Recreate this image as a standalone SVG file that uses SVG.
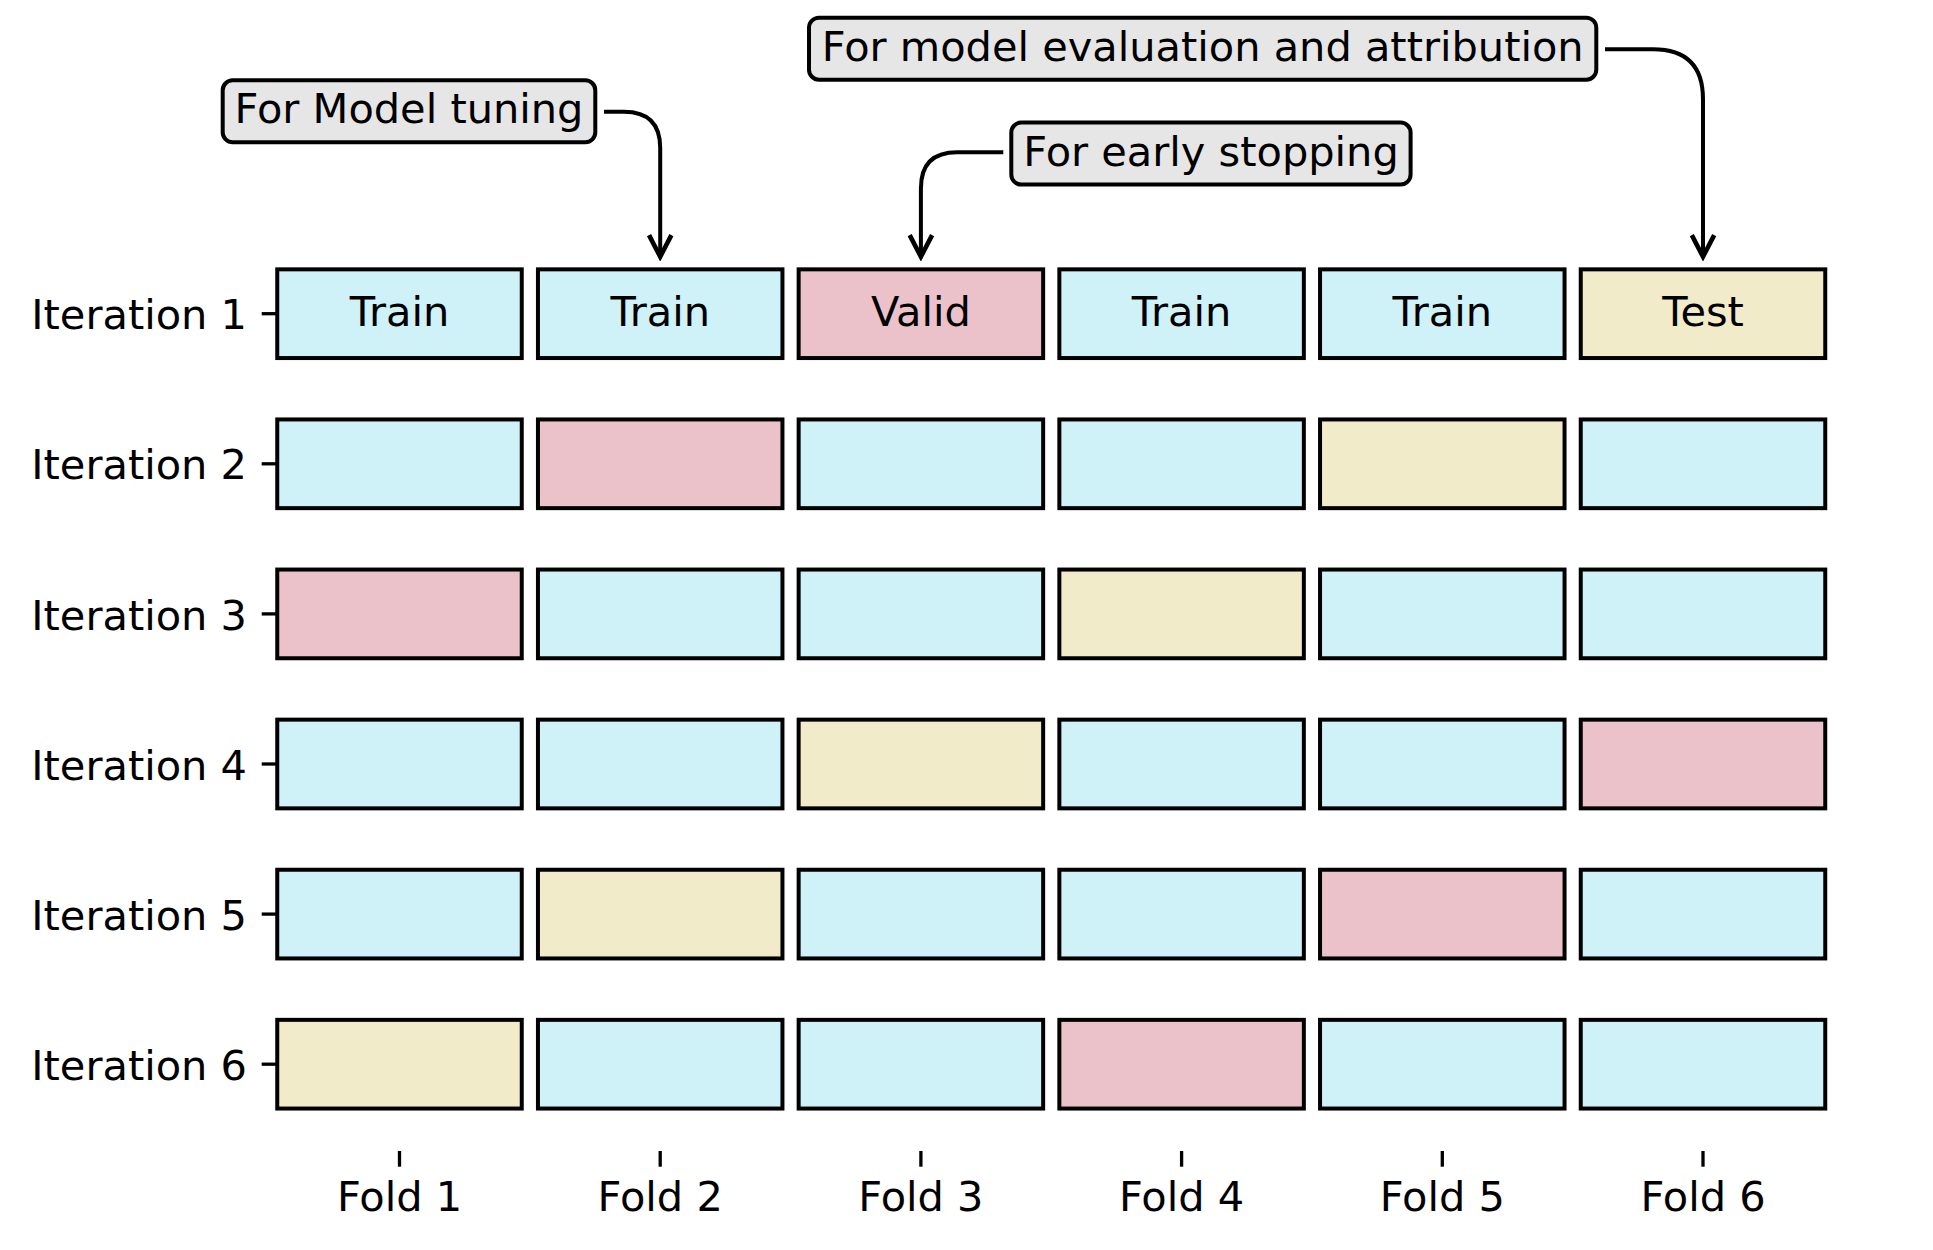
<svg xmlns="http://www.w3.org/2000/svg" width="1933" height="1250" viewBox="0 0 1933 1250">
<style>
text{font-family:"DejaVu Sans","Liberation Sans",sans-serif;font-size:41.5px;fill:#000}
.box{stroke:#000;stroke-width:4}
.tr{fill:#cff1f8}.va{fill:#ebc2c9}.te{fill:#f2ebca}
.ann{fill:#e6e6e6;stroke:#000;stroke-width:4}
.tick{stroke:#000;stroke-width:3.3}
.conn{fill:none;stroke:#000;stroke-width:4}
.mid{text-anchor:middle}.end{text-anchor:end}
</style>
<defs>
<marker id="arr" markerUnits="userSpaceOnUse" markerWidth="30" markerHeight="30" viewBox="-22 -12 26 24" refX="0" refY="0" orient="auto">
<path d="M-18.7,-9.7 L0,0 L-18.7,9.7" fill="none" stroke="#000" stroke-width="4"/>
</marker>
</defs>
<rect width="1933" height="1250" fill="#fff"/>
<g id="axes">
<g class="tick">
<line x1="261.7" y1="313.7" x2="276.5" y2="313.7"/>
<line x1="261.7" y1="463.8" x2="276.5" y2="463.8"/>
<line x1="261.7" y1="613.9" x2="276.5" y2="613.9"/>
<line x1="261.7" y1="764" x2="276.5" y2="764"/>
<line x1="261.7" y1="914.1" x2="276.5" y2="914.1"/>
<line x1="261.7" y1="1064.2" x2="276.5" y2="1064.2"/>
<line x1="399.5" y1="1151" x2="399.5" y2="1166.7"/>
<line x1="660.2" y1="1151" x2="660.2" y2="1166.7"/>
<line x1="920.9" y1="1151" x2="920.9" y2="1166.7"/>
<line x1="1181.6" y1="1151" x2="1181.6" y2="1166.7"/>
<line x1="1442.3" y1="1151" x2="1442.3" y2="1166.7"/>
<line x1="1703" y1="1151" x2="1703" y2="1166.7"/>
</g>
<text class="end" x="247" y="329.3">Iteration 1</text>
<text class="end" x="247" y="479.4">Iteration 2</text>
<text class="end" x="247" y="629.5">Iteration 3</text>
<text class="end" x="247" y="779.6">Iteration 4</text>
<text class="end" x="247" y="929.7">Iteration 5</text>
<text class="end" x="247" y="1079.8">Iteration 6</text>
<text class="mid" x="399.5" y="1211">Fold 1</text>
<text class="mid" x="660.2" y="1211">Fold 2</text>
<text class="mid" x="920.9" y="1211">Fold 3</text>
<text class="mid" x="1181.6" y="1211">Fold 4</text>
<text class="mid" x="1442.3" y="1211">Fold 5</text>
<text class="mid" x="1703" y="1211">Fold 6</text>
</g>
<g id="row1">
<rect class="box tr" x="277.25" y="269.35" width="244.5" height="88.7"/>
<rect class="box tr" x="537.95" y="269.35" width="244.5" height="88.7"/>
<rect class="box va" x="798.65" y="269.35" width="244.5" height="88.7"/>
<rect class="box tr" x="1059.35" y="269.35" width="244.5" height="88.7"/>
<rect class="box tr" x="1320.05" y="269.35" width="244.5" height="88.7"/>
<rect class="box te" x="1580.75" y="269.35" width="244.5" height="88.7"/>
<text class="mid" x="399.5" y="326">Train</text>
<text class="mid" x="660.2" y="326">Train</text>
<text class="mid" x="920.9" y="326">Valid</text>
<text class="mid" x="1181.6" y="326">Train</text>
<text class="mid" x="1442.3" y="326">Train</text>
<text class="mid" x="1703" y="326">Test</text>
</g>
<g id="row2">
<rect class="box tr" x="277.25" y="419.45" width="244.5" height="88.7"/>
<rect class="box va" x="537.95" y="419.45" width="244.5" height="88.7"/>
<rect class="box tr" x="798.65" y="419.45" width="244.5" height="88.7"/>
<rect class="box tr" x="1059.35" y="419.45" width="244.5" height="88.7"/>
<rect class="box te" x="1320.05" y="419.45" width="244.5" height="88.7"/>
<rect class="box tr" x="1580.75" y="419.45" width="244.5" height="88.7"/>
</g>
<g id="row3">
<rect class="box va" x="277.25" y="569.55" width="244.5" height="88.7"/>
<rect class="box tr" x="537.95" y="569.55" width="244.5" height="88.7"/>
<rect class="box tr" x="798.65" y="569.55" width="244.5" height="88.7"/>
<rect class="box te" x="1059.35" y="569.55" width="244.5" height="88.7"/>
<rect class="box tr" x="1320.05" y="569.55" width="244.5" height="88.7"/>
<rect class="box tr" x="1580.75" y="569.55" width="244.5" height="88.7"/>
</g>
<g id="row4">
<rect class="box tr" x="277.25" y="719.65" width="244.5" height="88.7"/>
<rect class="box tr" x="537.95" y="719.65" width="244.5" height="88.7"/>
<rect class="box te" x="798.65" y="719.65" width="244.5" height="88.7"/>
<rect class="box tr" x="1059.35" y="719.65" width="244.5" height="88.7"/>
<rect class="box tr" x="1320.05" y="719.65" width="244.5" height="88.7"/>
<rect class="box va" x="1580.75" y="719.65" width="244.5" height="88.7"/>
</g>
<g id="row5">
<rect class="box tr" x="277.25" y="869.75" width="244.5" height="88.7"/>
<rect class="box te" x="537.95" y="869.75" width="244.5" height="88.7"/>
<rect class="box tr" x="798.65" y="869.75" width="244.5" height="88.7"/>
<rect class="box tr" x="1059.35" y="869.75" width="244.5" height="88.7"/>
<rect class="box va" x="1320.05" y="869.75" width="244.5" height="88.7"/>
<rect class="box tr" x="1580.75" y="869.75" width="244.5" height="88.7"/>
</g>
<g id="row6">
<rect class="box te" x="277.25" y="1019.85" width="244.5" height="88.7"/>
<rect class="box tr" x="537.95" y="1019.85" width="244.5" height="88.7"/>
<rect class="box tr" x="798.65" y="1019.85" width="244.5" height="88.7"/>
<rect class="box va" x="1059.35" y="1019.85" width="244.5" height="88.7"/>
<rect class="box tr" x="1320.05" y="1019.85" width="244.5" height="88.7"/>
<rect class="box tr" x="1580.75" y="1019.85" width="244.5" height="88.7"/>
</g>
<g id="ann-tuning">
<rect class="ann" x="222.7" y="80.3" width="372.6" height="62" rx="10"/>
<text class="mid" x="409" y="123.3">For Model tuning</text>
</g>
<g id="ann-early">
<rect class="ann" x="1011.3" y="122.6" width="399.3" height="62" rx="10"/>
<text class="mid" x="1211" y="165.7">For early stopping</text>
</g>
<g id="ann-eval">
<rect class="ann" x="809" y="17.7" width="787.3" height="62" rx="10"/>
<text class="mid" x="1202.7" y="60.8">For model evaluation and attribution</text>
</g>
<g id="connectors">
<path class="conn" marker-end="url(#arr)" d="M604,111.7 H624 Q660.2,111.7 660.2,147.9 V256.7"/>
<path class="conn" marker-end="url(#arr)" d="M1003.3,152.3 H957 Q920.9,152.3 920.9,188.4 V256.7"/>
<path class="conn" marker-end="url(#arr)" d="M1605,49.3 H1653 Q1703,49.3 1703,99.3 V256.7"/>
</g>
</svg>
